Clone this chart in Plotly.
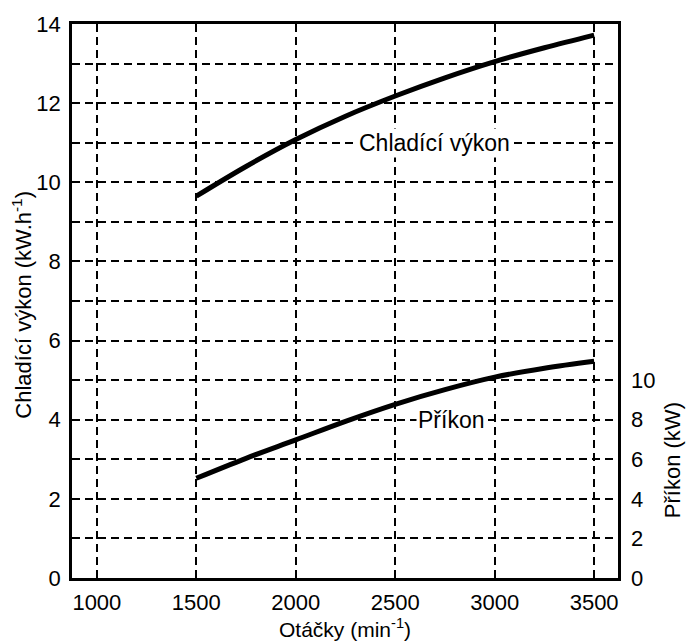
import plotly.graph_objects as go

otacky = [1500, 1750, 2000, 2250, 2500, 2750, 3000, 3250, 3500]
chladici_vykon = [9.65, 10.40, 11.08, 11.67, 12.18, 12.64, 13.05, 13.40, 13.72]
prikon = [5.04, 6.05, 6.98, 7.92, 8.78, 9.52, 10.15, 10.60, 10.95]

left_ticks = [0, 2, 4, 6, 8, 10, 12, 14]
right_ticks = [0, 2, 4, 6, 8, 10]
x_ticks = [1000, 1500, 2000, 2500, 3000, 3500]

font = "Liberation Sans, Arial, sans-serif"
fsize = 22

fig = go.Figure()
fig.add_trace(go.Scatter(
    x=otacky, y=chladici_vykon, mode="lines", line=dict(color="black", width=5, shape="spline"),
    showlegend=False, hoverinfo="skip",
))
fig.add_trace(go.Scatter(
    x=otacky, y=prikon, mode="lines", yaxis="y2", line=dict(color="black", width=5, shape="spline"),
    showlegend=False, hoverinfo="skip",
))

grid = dict(showgrid=True, gridcolor="black", gridwidth=1.6, griddash="8px,5px")

fig.update_layout(
    width=697, height=643,
    margin=dict(l=72, r=79, t=16, b=65),
    paper_bgcolor="white", plot_bgcolor="white",
    font=dict(family=font, size=fsize, color="black"),
    xaxis=dict(
        range=[875, 3620], tickvals=x_ticks, showline=True, linecolor="black", linewidth=2.5,
        mirror=True, ticks="", ticklabelstandoff=3, zeroline=False, **grid,
    ),
    yaxis=dict(
        range=[0, 14], tickvals=left_ticks, showline=True, linecolor="black", linewidth=2.5,
        mirror=True, ticks="", ticklabelstandoff=4, zeroline=False, **grid,
        minor=dict(dtick=1, showgrid=True, gridcolor="black", gridwidth=1.6, griddash="8px,5px"),
    ),
    yaxis2=dict(
        range=[0, 28], tickvals=right_ticks, overlaying="y", side="right", showgrid=False,
        zeroline=False, ticks="", ticklabelstandoff=12, showline=False,
    ),
)

fig.add_annotation(x=2698, y=11, xref="x", yref="y", text="Chladící výkon", showarrow=False,
                   bgcolor="white", borderpad=1, font=dict(size=23))
fig.add_annotation(x=2782, y=4, xref="x", yref="y", text="Příkon", showarrow=False,
                   bgcolor="white", borderpad=1, font=dict(size=23))

fig.add_annotation(x=0.5, y=-0.09, xref="paper", yref="paper", yanchor="middle",
                   text="Otáčky (min<sup>-1</sup>)", showarrow=False, font=dict(size=21))
fig.add_annotation(x=-0.092, y=0.493, xref="paper", yref="paper", xanchor="center",
                   yanchor="middle", text="Chladící výkon (kW.h<sup>-1</sup>)", textangle=-90,
                   showarrow=False)
fig.add_annotation(x=1.1, y=0.212, xref="paper", yref="paper", xanchor="center",
                   yanchor="middle", text="Příkon (kW)", textangle=-90, showarrow=False)

fig.write_html("out.html", config={"displayModeBar": False},
               post_script="document.body.style.margin='0';")
